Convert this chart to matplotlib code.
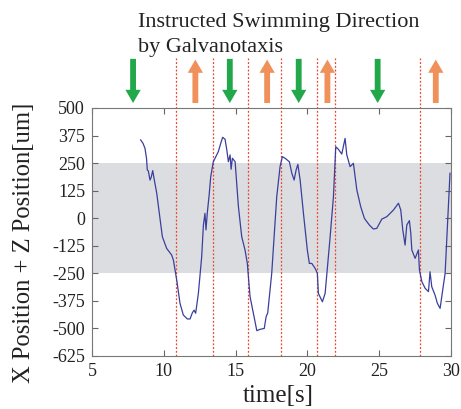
import matplotlib.pyplot as plt
from matplotlib.patches import FancyArrowPatch
from matplotlib.transforms import blended_transform_factory

plt.rcParams['font.family'] = ['Liberation Serif', 'DejaVu Serif']
plt.rcParams['axes.unicode_minus'] = False

# trajectory
time_s = [8.39, 8.55, 8.69, 8.80, 8.85, 8.92, 9.04, 9.12, 9.23, 9.32, 9.51, 9.69,
          9.90, 10.20, 10.55, 10.67, 10.90, 11.13, 11.36, 11.64, 11.83, 11.99,
          12.11, 12.22, 12.41, 12.64, 12.76, 12.87, 12.94, 13.04, 13.15, 13.27,
          13.45, 13.80, 13.97, 14.10, 14.27, 14.39, 14.50, 14.62, 14.69, 14.78,
          14.97, 15.10, 15.20, 15.43, 15.66, 15.82, 16.01, 16.29, 16.48, 16.71,
          17.00, 17.13, 17.24, 17.52, 17.87, 18.10, 18.26, 18.45, 18.75, 18.92,
          19.08, 19.22, 19.34, 19.50, 19.73, 20.00, 20.14, 20.31, 20.54, 20.70,
          20.77, 21.05, 21.24, 21.59, 21.82, 21.98, 22.16, 22.40, 22.63, 22.75,
          22.98, 23.21, 23.45, 23.72, 23.98, 24.32, 24.60, 24.84, 25.19, 25.54,
          26.00, 26.35, 26.51, 26.65, 26.81, 26.93, 27.11, 27.21, 27.28, 27.51,
          27.74, 27.81, 27.98, 28.21, 28.44, 28.55, 28.67, 28.90, 29.06, 29.25,
          29.60, 29.94]
position = [355, 340, 317, 270, 219, 215, 173, 185, 216, 181, 113, 22,
            -84, -137, -167, -190, -280, -386, -439, -457, -457, -429,
            -417, -431, -341, -175, -31, 22, -53, 30, 98, 188,
            256, 302, 340, 367, 358, 310, 256, 287, 222, 272,
            256, 140, 52, -84, -144, -205, -356, -447, -510, -504,
            -500, -447, -430, -250, 98, 234, 279, 272, 256, 204,
            173, 219, 244, 173, 22, -144, -205, -205, -227, -250,
            -341, -379, -341, -84, 98, 324, 313, 291, 362, 287,
            234, 249, 128, 52, -1, -31, -49, -46, -4, 7,
            37, 68, 37, -53, -122, -31, -11, -69, -144, -182,
            -144, -235, -288, -318, -333, -243, -311, -349, -386, -409,
            -250, 204]

switch_times = [10.88, 13.4, 15.9, 18.2, 20.7, 21.95, 27.86]
down_arrows = [7.86, 14.6, 19.4, 24.9]
up_arrows = [12.2, 17.2, 21.4, 28.95]
yticks = [500, 375, 250, 125, 0, -125, -250, -375, -500, -625]

fig = plt.figure(figsize=(4.61, 4.09), dpi=100)
ax = fig.add_axes([0.1996, 0.1296, 0.7784, 0.6064])

ax.axhspan(-250, 250, color='#dcdde0', lw=0, zorder=0)
ax.plot(time_s, position, color='#3a3f9c', lw=0.9, zorder=3)

for t in switch_times:
    ax.axvline(t, ymin=0, ymax=1.2, color='#e8452c', lw=0.9,
               linestyle=(0, (1.5, 1.5)), clip_on=False, zorder=2)

trans = blended_transform_factory(ax.transData, ax.transAxes)
style = 'simple,head_width=1.1,head_length=0.95,tail_width=0.42'
for t in down_arrows:
    ax.add_patch(FancyArrowPatch((t, 1.198), (t, 1.02), transform=trans,
                                 arrowstyle=style, mutation_scale=10,
                                 color='#22a84a', lw=0, clip_on=False,
                                 shrinkA=0, shrinkB=0))
for t in up_arrows:
    ax.add_patch(FancyArrowPatch((t, 1.02), (t, 1.195), transform=trans,
                                 arrowstyle=style, mutation_scale=10,
                                 color='#f0905a', lw=0, clip_on=False,
                                 shrinkA=0, shrinkB=0))

ax.set_xlim(5, 30)
ax.set_ylim(-625, 500)
ax.set_xticks([5, 10, 15, 20, 25, 30])
ax.set_yticks(yticks)
ax.set_yticklabels([str(v) for v in yticks])
ax.tick_params(direction='in', top=True, right=True, length=4, width=0.8,
               color='#666666', labelsize=13, labelcolor='#222222', pad=5)
for s in ax.spines.values():
    s.set_color('#777777')
    s.set_linewidth(0.8)

# axis labels placed where they sit in the original
fig.text(278 / 461, 1 - 402 / 409, 'time[s]', fontsize=18, color='#222222',
         ha='center', va='baseline')
fig.text(24 / 461, 1 - 243 / 409, 'X Position + Z Position[um]', fontsize=17.7,
         color='#222222', ha='center', va='center', rotation=90)

fig.text(138 / 461, 1 - 27 / 409, 'Instructed Swimming Direction', fontsize=16,
         color='#222222', ha='left', va='baseline')
fig.text(138 / 461, 1 - 52 / 409, 'by Galvanotaxis', fontsize=16,
         color='#222222', ha='left', va='baseline')

fig.savefig('out.png', dpi=100)
